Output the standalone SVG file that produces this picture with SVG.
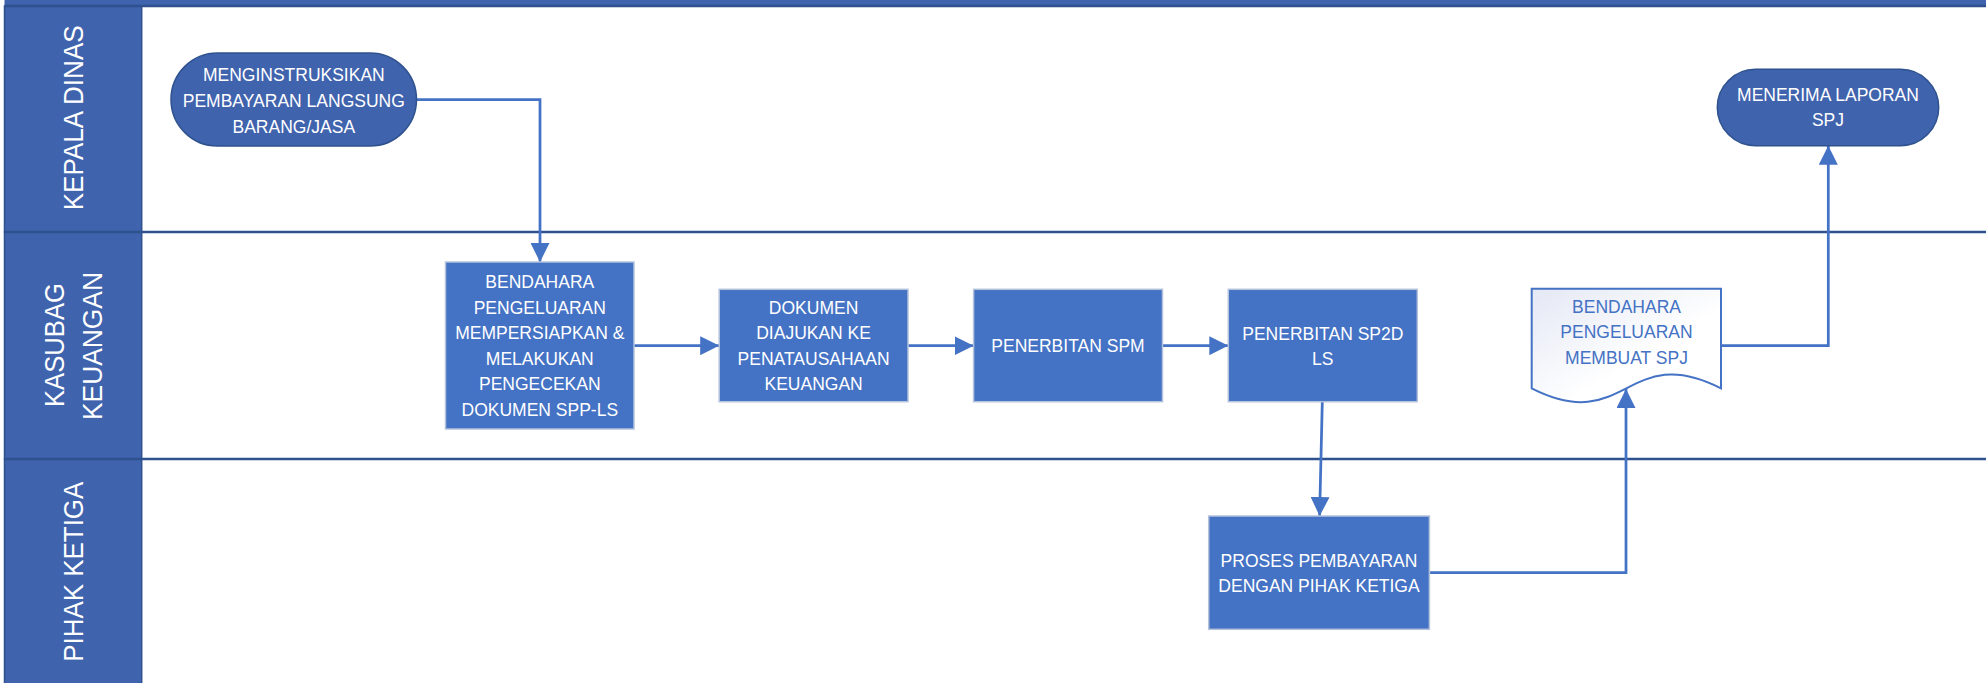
<svg xmlns="http://www.w3.org/2000/svg" width="1986" height="683" viewBox="0 0 1986 683">
  <style>
    .lanehdr { fill: #3F63AD; stroke: #2F528F; stroke-width: 1.5; }
    .lanelabel { font-family: "Liberation Sans", Arial, sans-serif; font-size: 28px; fill: #FFFFFF; text-anchor: middle; }
    .divider { stroke: #2F528F; stroke-width: 2.5; fill: none; }
    .terminal { fill: #3F63AD; stroke: #2F528F; stroke-width: 1.5; }
    .box { fill: #4472C4; stroke: #B4C2DC; stroke-width: 1.5; }
    .doc { fill: url(#docgrad); stroke: #4472C4; stroke-width: 2; }
    .t { font-family: "Liberation Sans", Arial, sans-serif; font-size: 17.5px; fill: #FFFFFF; text-anchor: middle; }
    .td { font-family: "Liberation Sans", Arial, sans-serif; font-size: 17.5px; fill: #4472C4; text-anchor: middle; }
    .conn { stroke: #4472C4; stroke-width: 2.75; fill: none; marker-end: url(#arrow); }
  </style>
  <defs>
    <marker id="arrow" markerUnits="userSpaceOnUse" markerWidth="19" markerHeight="19" refX="19" refY="9.5" orient="auto">
      <path d="M0,0 L19,9.5 L0,19 Z" fill="#4472C4"/>
    </marker>
    <linearGradient id="docgrad" x1="0" y1="0" x2="1" y2="1">
      <stop offset="0" stop-color="#E4E8F5"/>
      <stop offset="0.6" stop-color="#FFFFFF"/>
    </linearGradient>
  </defs>

  <rect x="0" y="0" width="1986" height="683" fill="#FFFFFF"/>

  <g id="lanes">
    <rect x="4.5" y="0" width="1981.5" height="6" fill="#3F63AD"/>
    <rect class="lanehdr" x="4.5" y="6" width="137.2" height="226"/>
    <rect class="lanehdr" x="4.5" y="232" width="137.2" height="227"/>
    <rect class="lanehdr" x="4.5" y="459" width="137.2" height="226"/>
    <line class="divider" x1="4.5" y1="6" x2="1986" y2="6"/>
    <line class="divider" x1="4.5" y1="232" x2="1986" y2="232"/>
    <line class="divider" x1="4.5" y1="459" x2="1986" y2="459"/>
    <text class="lanelabel" transform="translate(83.3,117.8) rotate(-90)" textLength="185" lengthAdjust="spacingAndGlyphs">KEPALA DINAS</text>
    <text class="lanelabel" transform="translate(64,345) rotate(-90)" textLength="124" lengthAdjust="spacingAndGlyphs">KASUBAG</text>
    <text class="lanelabel" transform="translate(101.7,346) rotate(-90)" textLength="148" lengthAdjust="spacingAndGlyphs">KEUANGAN</text>
    <text class="lanelabel" transform="translate(82.6,571.7) rotate(-90)" textLength="180" lengthAdjust="spacingAndGlyphs">PIHAK KETIGA</text>
  </g>

  <g id="connectors">
    <path class="conn" d="M416.5,99.5 H540 V262"/>
    <path class="conn" d="M634,345.7 H719.2"/>
    <path class="conn" d="M908,345.7 H973.6"/>
    <path class="conn" d="M1162.5,345.7 H1228.3"/>
    <path class="conn" d="M1322.3,401.7 L1319.6,516"/>
    <path class="conn" d="M1429.4,572.5 H1626 V389"/>
    <path class="conn" d="M1721,345.7 H1828.3 V145.7"/>
  </g>

  <g id="start">
    <rect class="terminal" x="171" y="53" width="245.5" height="93" rx="46.5" ry="46.5"/>
    <text class="t"><tspan x="293.8" y="81.3">MENGINSTRUKSIKAN</tspan><tspan x="293.8" y="106.6">PEMBAYARAN LANGSUNG</tspan><tspan x="293.8" y="133">BARANG/JASA</tspan></text>
  </g>

  <g id="bendahara">
    <rect class="box" x="445.5" y="262" width="188.5" height="167"/>
    <text class="t"><tspan x="539.8" y="288">BENDAHARA</tspan><tspan x="539.8" y="313.6">PENGELUARAN</tspan><tspan x="539.8" y="339.2">MEMPERSIAPKAN &amp;</tspan><tspan x="539.8" y="364.8">MELAKUKAN</tspan><tspan x="539.8" y="390.4">PENGECEKAN</tspan><tspan x="539.8" y="416">DOKUMEN SPP-LS</tspan></text>
  </g>

  <g id="dokumen">
    <rect class="box" x="719.2" y="289.3" width="188.8" height="112.4"/>
    <text class="t"><tspan x="813.6" y="313.6">DOKUMEN</tspan><tspan x="813.6" y="339.2">DIAJUKAN KE</tspan><tspan x="813.6" y="364.8">PENATAUSAHAAN</tspan><tspan x="813.6" y="390.4">KEUANGAN</tspan></text>
  </g>

  <g id="spm">
    <rect class="box" x="973.6" y="289.3" width="188.9" height="112.4"/>
    <text class="t" x="1068" y="352">PENERBITAN SPM</text>
  </g>

  <g id="sp2d">
    <rect class="box" x="1228.3" y="289.3" width="189" height="112.4"/>
    <text class="t"><tspan x="1322.8" y="339.6">PENERBITAN SP2D</tspan><tspan x="1322.8" y="365.3">LS</tspan></text>
  </g>

  <g id="pembayaran">
    <rect class="box" x="1208.7" y="516" width="220.7" height="113.3"/>
    <text class="t"><tspan x="1319" y="567">PROSES PEMBAYARAN</tspan><tspan x="1319" y="592">DENGAN PIHAK KETIGA</tspan></text>
  </g>

  <g id="spj">
    <path class="doc" d="M1531.7,388.3 V288.7 H1721 V388.3 C1626.3,340.3 1626.3,436.3 1531.7,388.3 Z"/>
    <text class="td"><tspan x="1626.5" y="313">BENDAHARA</tspan><tspan x="1626.5" y="338">PENGELUARAN</tspan><tspan x="1626.5" y="363.5">MEMBUAT SPJ</tspan></text>
  </g>

  <g id="end">
    <rect class="terminal" x="1717.3" y="69.3" width="221.4" height="76.4" rx="38.2" ry="38.2"/>
    <text class="t"><tspan x="1828" y="101.3">MENERIMA LAPORAN</tspan><tspan x="1828" y="126.3">SPJ</tspan></text>
  </g>
</svg>
